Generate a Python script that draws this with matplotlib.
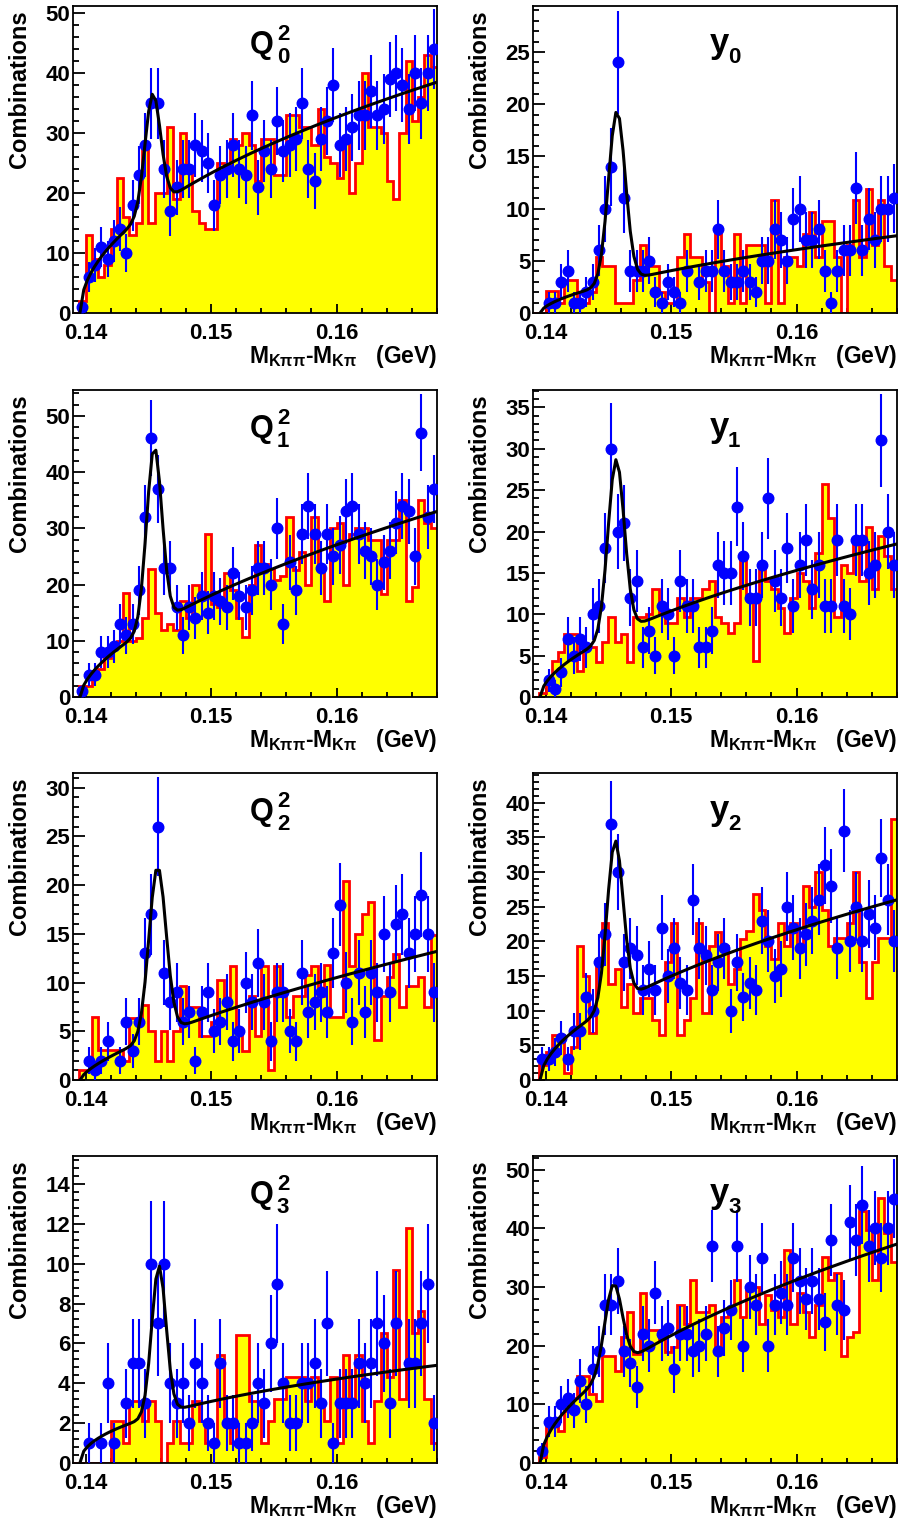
import numpy as np
import matplotlib
matplotlib.use("Agg")
import matplotlib.pyplot as plt
from matplotlib.ticker import MultipleLocator, FormatStrFormatter

plt.rcParams["font.family"] = ["Liberation Sans", "DejaVu Sans"]
plt.rcParams["font.weight"] = "bold"
plt.rcParams["mathtext.fontset"] = "custom"
plt.rcParams["mathtext.rm"] = "Liberation Sans:bold"
plt.rcParams["mathtext.bf"] = "Liberation Sans:bold"
plt.rcParams["mathtext.it"] = "Liberation Sans:bold"

# 58 bins of 0.5 MeV in M(K pi pi) - M(K pi), from 0.139 to 0.168 GeV
bin_edges = np.round(0.139 + 0.0005 * np.arange(59), 5)
bin_centers = 0.5 * (bin_edges[:-1] + bin_edges[1:])

# ---- Q^2 bin 0 ----
data_q0 = [0, 1, 6, 8, 11, 9, 12, 14, 10, 18, 23, 28, 35, 35, 24, 17, 21, 24, 24, 28, 27,
           25, 18, 23, 24, 28, 24, 23, 33, 21, 27, 24, 32, 27, 28, 29, 35, 24, 22, 29, 32,
           38, 28, 29, 31, 33, 33, 37, 33, 34, 39, 40, 38, 34, 40, 35, 40, 44]
hist_q0 = [0, 2, 13, 9, 6, 8, 14, 22.5, 16, 13, 15, 28, 15, 20, 20, 31, 19, 30, 24, 17, 15,
           14, 14, 25, 24, 29, 28, 30, 28, 22, 29, 29, 23, 23, 33, 33, 31, 31, 28, 34, 26,
           25, 22.5, 29, 20, 25, 40, 31, 31, 30, 22, 19, 30, 42, 32, 36, 43, 41]
# ---- y bin 0 ----
data_y0 = [0, 0, 1, 1, 3, 4, 1, 1, 2, 3, 6, 10, 14, 24, 11, 4, 4, 4, 5, 2, 1,
           3, 2, 1, 4, 0, 3, 4, 4, 8, 4, 3, 3, 4, 3, 2, 5, 5, 8, 7, 5,
           9, 10, 7, 7, 8, 4, 1, 4, 6, 6, 12, 6, 9, 7, 10, 10, 11]
hist_y0 = [0, 0, 2.1, 2.1, 1, 3.2, 3.2, 1, 1, 2, 5.4, 4.5, 4.5, 1, 1, 1, 3.2, 6.5, 4.5, 4.5, 2,
           1, 1, 5.4, 7.6, 5.4, 5.4, 3, 0, 7.6, 4.5, 1, 7.6, 1, 6.5, 6.5, 6.5, 1, 10.8, 1, 5.4,
           5.4, 4.5, 7.6, 9.7, 5.4, 8.8, 8.8, 5.4, 0, 6.5, 10.8, 5.4, 11.9, 6.5, 10.8, 4.5, 3.2]
# ---- Q^2 bin 1 ----
data_q1 = [0, 1, 4, 4, 8, 8, 9, 13, 11, 13, 19, 32, 46, 37, 23, 23, 16, 11, 16, 14, 18,
           15, 18, 17, 16, 22, 18, 16, 19, 23, 23, 20, 30, 13, 24, 19, 29, 34, 29, 23, 29,
           25, 27, 33, 34, 29, 26, 25, 20, 24, 26, 31, 34, 33, 25, 47, 32, 37]
hist_q1 = [0, 2, 2, 4, 5, 7, 9, 10, 18.5, 10, 10.5, 14, 22.7, 15, 12, 13, 12, 17, 14, 20, 18,
           29, 16.6, 16, 22, 19, 14, 10.7, 20, 27, 23.7, 22.8, 20.8, 21.6, 32, 22.5, 25.8, 20, 32, 23, 17,
           30, 31, 20, 29, 30, 30, 28, 28, 18.4, 28, 28, 35, 17, 19.6, 35, 31, 30]
# ---- y bin 1 ----
data_y1 = [0, 0, 2, 1, 3, 7, 5, 7, 6, 10, 11, 18, 30, 20, 21, 12, 14, 6, 8, 5, 11,
           10, 5, 14, 11, 11, 6, 6, 8, 16, 15, 15, 23, 17, 12, 12, 16, 24, 14, 12, 18,
           11, 16, 19, 13, 16, 11, 11, 19, 11, 10, 19, 19, 15, 16, 31, 20, 16]
hist_y1 = [0, 0.5, 2, 4.4, 5.4, 7.6, 7.6, 3.2, 6, 6, 4.2, 6.7, 9.7, 6.7, 7.6, 4.2, 9.7, 9.7, 10, 13, 10,
           8.9, 8.9, 12, 9.7, 12, 12, 13, 14, 9.7, 8.9, 7.7, 8.9, 17, 12, 4.4, 16, 14, 13, 10.7, 7.7,
           12, 15, 14, 10.7, 17.4, 25.8, 21.6, 9.7, 16, 15, 19, 14, 20.6, 13, 19.4, 17, 13]
# ---- Q^2 bin 2 ----
data_q2 = [0, 0, 2, 1, 2, 4, 0, 2, 6, 3, 6, 13, 17, 26, 11, 8, 9, 6, 7, 2, 7,
           9, 5, 6, 8, 4, 5, 10, 8, 12, 8, 4, 9, 9, 5, 4, 11, 7, 8, 9, 7,
           13, 18, 10, 6, 11, 7, 11, 9, 15, 9, 16, 17, 13, 15, 19, 15, 9]
hist_q2 = [0, 1, 1, 6.5, 3.1, 3.1, 3.1, 3.1, 2, 6.4, 6.4, 7.7, 5, 2, 5, 2, 5, 9.6, 7.5, 7.5, 4.5,
           4.5, 6, 10.3, 8.2, 11.7, 5, 3, 8.6, 4.5, 11.7, 1, 11.7, 8.6, 6.5, 8.6, 8.6, 10.8, 11.7, 8.6, 11.8,
           6.5, 6.5, 20.4, 11.7, 15, 17, 18.3, 4.1, 8.6, 10.6, 12.9, 7.5, 9.6, 9.6, 10.6, 7.5, 14.9]
# ---- y bin 2 ----
data_y2 = [0, 3, 3, 4, 6, 3, 7, 7, 12, 10, 17, 21, 37, 30, 17, 19, 18, 13, 16, 13, 22,
           15, 19, 14, 13, 26, 19, 18, 13, 17, 19, 10, 17, 12, 14, 13, 23, 20, 15, 16, 25,
           22, 19, 21, 23, 26, 31, 28, 19, 36, 20, 25, 20, 24, 22, 32, 26, 20]
hist_y2 = [0, 2.2, 4.1, 6.5, 6.5, 1, 4.8, 19.3, 15, 6.8, 17.4, 22.7, 13.8, 16, 10.6, 13.8, 9.7, 11.8, 11.8, 8.7, 6.5,
           17, 22.7, 6.5, 8.7, 11.8, 22.7, 9.7, 19.3, 21.3, 19.3, 13.8, 16, 20.3, 21.5, 26.8, 24.6, 19.3, 17.4, 22.7, 19.3,
           22.7, 19.3, 28, 24.9, 30, 24.6, 19.3, 20.5, 20.5, 22.7, 30, 17, 11.8, 17, 20.5, 20.5, 37.7]
# ---- Q^2 bin 3 ----
data_q3 = [0, 0, 1, 0, 1, 4, 1, 0, 3, 5, 5, 3, 10, 7, 10, 4, 3, 4, 2, 5, 4,
           2, 1, 5, 2, 2, 1, 1, 2, 4, 3, 6, 9, 4, 2, 2, 4, 4, 5, 3, 7,
           1, 3, 3, 3, 5, 4, 5, 7, 6, 3, 7, 0, 5, 5, 7, 9, 2]
hist_q3 = [0, 0, 0, 0, 0, 0, 2.1, 2.1, 1, 3.1, 3.1, 2.1, 3.1, 2.1, 0, 1, 2.1, 1, 1, 3.1, 2.1,
           1, 1, 5.4, 2.1, 1, 6.4, 6.4, 3.1, 3.1, 1, 2.1, 3.2, 3.2, 4.3, 4.3, 4.3, 3.1, 4.3, 3.1, 2.1,
           4.3, 1, 5.4, 3.1, 5.4, 2.1, 1, 3.1, 6.5, 4.3, 9.7, 3.2, 11.8, 6.5, 7.6, 3.2, 1]
# ---- y bin 3 ----
data_y3 = [0, 2, 7, 7, 10, 11, 9, 14, 10, 16, 19, 27, 27, 31, 19, 17, 13, 22, 20, 29, 22,
           23, 16, 22, 22, 19, 20, 22, 37, 19, 23, 26, 37, 20, 30, 27, 35, 20, 27, 29, 27,
           35, 31, 28, 31, 28, 24, 38, 27, 26, 41, 38, 44, 37, 40, 35, 40, 45]
hist_y3 = [0, 1, 6.3, 6.3, 5.4, 8.9, 11, 14.9, 14.9, 11.7, 10.6, 18.3, 18.3, 15.7, 21.4, 25.7, 18.6, 28.9, 22.6, 22.6, 21.1,
           18.9, 19.7, 26.9, 23.7, 31.1, 25.7, 25.7, 26.9, 19.7, 24.9, 26, 31.1, 24.9, 30, 30, 23.7, 28.6, 26, 24.9, 36.3,
           23.7, 28.9, 25.7, 21.4, 26.9, 35.1, 31.1, 32.3, 18.3, 21.4, 22.3, 42.9, 39.7, 31.1, 45.1, 39.1, 34.3]

# Fit parameters: background value at 0.168 GeV, threshold power, Gaussian mean, sigma, amplitude
fit_q0 = (38.5, 0.50, 0.14535, 0.00062, 19.2)
fit_y0 = (7.4, 0.60, 0.14568, 0.00067, 16.4)
fit_q1 = (33.0, 0.60, 0.14547, 0.00061, 31.6)
fit_y1 = (18.5, 0.575, 0.14562, 0.00065, 21.1)
fit_q2 = (13.2, 0.69, 0.14573, 0.00068, 17.3)
fit_y2 = (26.0, 0.55, 0.14554, 0.00064, 23.5)
fit_q3 = (4.9, 0.46, 0.14584, 0.00057, 7.45)
fit_y3 = (37.3, 0.54, 0.14540, 0.00069, 14.6)

M_PI = 0.13957
X_MIN, X_MAX = 0.139, 0.168


def fit_curve(x, bg_end, power, mean, sigma, amp):
    bg = bg_end * ((x - M_PI) / (X_MAX - M_PI)) ** power
    return bg + amp * np.exp(-0.5 * ((x - mean) / sigma) ** 2)


# (kind, index, data, reference histogram, fit, y max, major step, minor step)
panels = [
    ("Q", "0", data_q0, hist_q0, fit_q0, 51.2, 10, 2),
    ("y", "0", data_y0, hist_y0, fit_y0, 29.4, 5, 1),
    ("Q", "1", data_q1, hist_q1, fit_q1, 54.6, 10, 2),
    ("y", "1", data_y1, hist_y1, fit_y1, 37.1, 5, 1),
    ("Q", "2", data_q2, hist_q2, fit_q2, 31.5, 5, 1),
    ("y", "2", data_y2, hist_y2, fit_y2, 44.3, 5, 1),
    ("Q", "3", data_q3, hist_q3, fit_q3, 15.4, 2, 0.4),
    ("y", "3", data_y3, hist_y3, fit_y3, 52.3, 10, 2),
]

W, H = 900, 1524
fig = plt.figure(figsize=(W / 100, H / 100), dpi=100)

col_left = [73, 533]
row_top = [6, 390, 773, 1156]
ax_w, ax_h = 364, 307

for k, (kind, idx, data, hist, fit, ymax, major, minor) in enumerate(panels):
    r, c = divmod(k, 2)
    ax = fig.add_axes([col_left[c] / W, 1 - (row_top[r] + ax_h) / H, ax_w / W, ax_h / H])

    hist = np.asarray(hist, dtype=float)
    ax.stairs(hist, bin_edges, fill=True, color="#ffff00", zorder=1)
    ax.stairs(hist, bin_edges, color="#ff0000", lw=2.0, zorder=2)

    counts = np.asarray(data, dtype=float)
    sel = counts > 0
    ax.errorbar(bin_centers[sel], counts[sel], yerr=np.sqrt(counts[sel]), fmt="o",
                color="#0000ff", ms=7.6, elinewidth=1.5, capsize=0, zorder=3)

    xf = np.linspace(M_PI + 1e-6, X_MAX, 100)
    ax.plot(xf, fit_curve(xf, *fit), color="black", lw=2.2, zorder=4)

    ax.set_xlim(X_MIN, X_MAX)
    ax.set_ylim(0, ymax)
    ax.xaxis.set_major_locator(MultipleLocator(0.01))
    ax.xaxis.set_minor_locator(MultipleLocator(0.002))
    ax.xaxis.set_major_formatter(FormatStrFormatter("%.2f"))
    ax.yaxis.set_major_locator(MultipleLocator(major))
    ax.yaxis.set_minor_locator(MultipleLocator(minor))
    ax.yaxis.set_major_formatter(FormatStrFormatter("%g"))
    ax.tick_params(which="both", direction="in", top=False, right=False, width=1.3)
    ax.tick_params(axis="x", which="major", length=6.5, labelsize=16, pad=7.5)
    ax.tick_params(axis="x", which="minor", length=3.5)
    ax.tick_params(axis="y", which="major", length=8.5, labelsize=16, pad=2)
    ax.tick_params(axis="y", which="minor", length=4.5)
    for sp in ax.spines.values():
        sp.set_linewidth(1.3)

    ax.text(-0.146, 0.987, "Combinations", rotation=90, ha="center", va="top",
            fontsize=17, fontweight="bold", transform=ax.transAxes)
    ax.text(1.0, -0.162, r"M$_{\mathbf{K\pi\pi}}$-M$_{\mathbf{K\pi}}$   (GeV)",
            ha="right", va="baseline", fontsize=16.5, fontweight="bold", transform=ax.transAxes)

    if kind == "Q":
        ax.text(0.486, 0.847, "Q", ha="left", va="baseline", fontsize=22,
                fontweight="bold", transform=ax.transAxes, zorder=5)
        ax.text(0.560, 0.889, "2", ha="left", va="baseline", fontsize=16,
                fontweight="bold", transform=ax.transAxes, zorder=5)
        ax.text(0.560, 0.814, idx, ha="left", va="baseline", fontsize=16,
                fontweight="bold", transform=ax.transAxes, zorder=5)
    else:
        ax.text(0.486, 0.846, "y", ha="left", va="baseline", fontsize=25,
                fontweight="bold", transform=ax.transAxes, zorder=5)
        ax.text(0.536, 0.814, idx, ha="left", va="baseline", fontsize=16,
                fontweight="bold", transform=ax.transAxes, zorder=5)

fig.savefig("out.png", dpi=100)
